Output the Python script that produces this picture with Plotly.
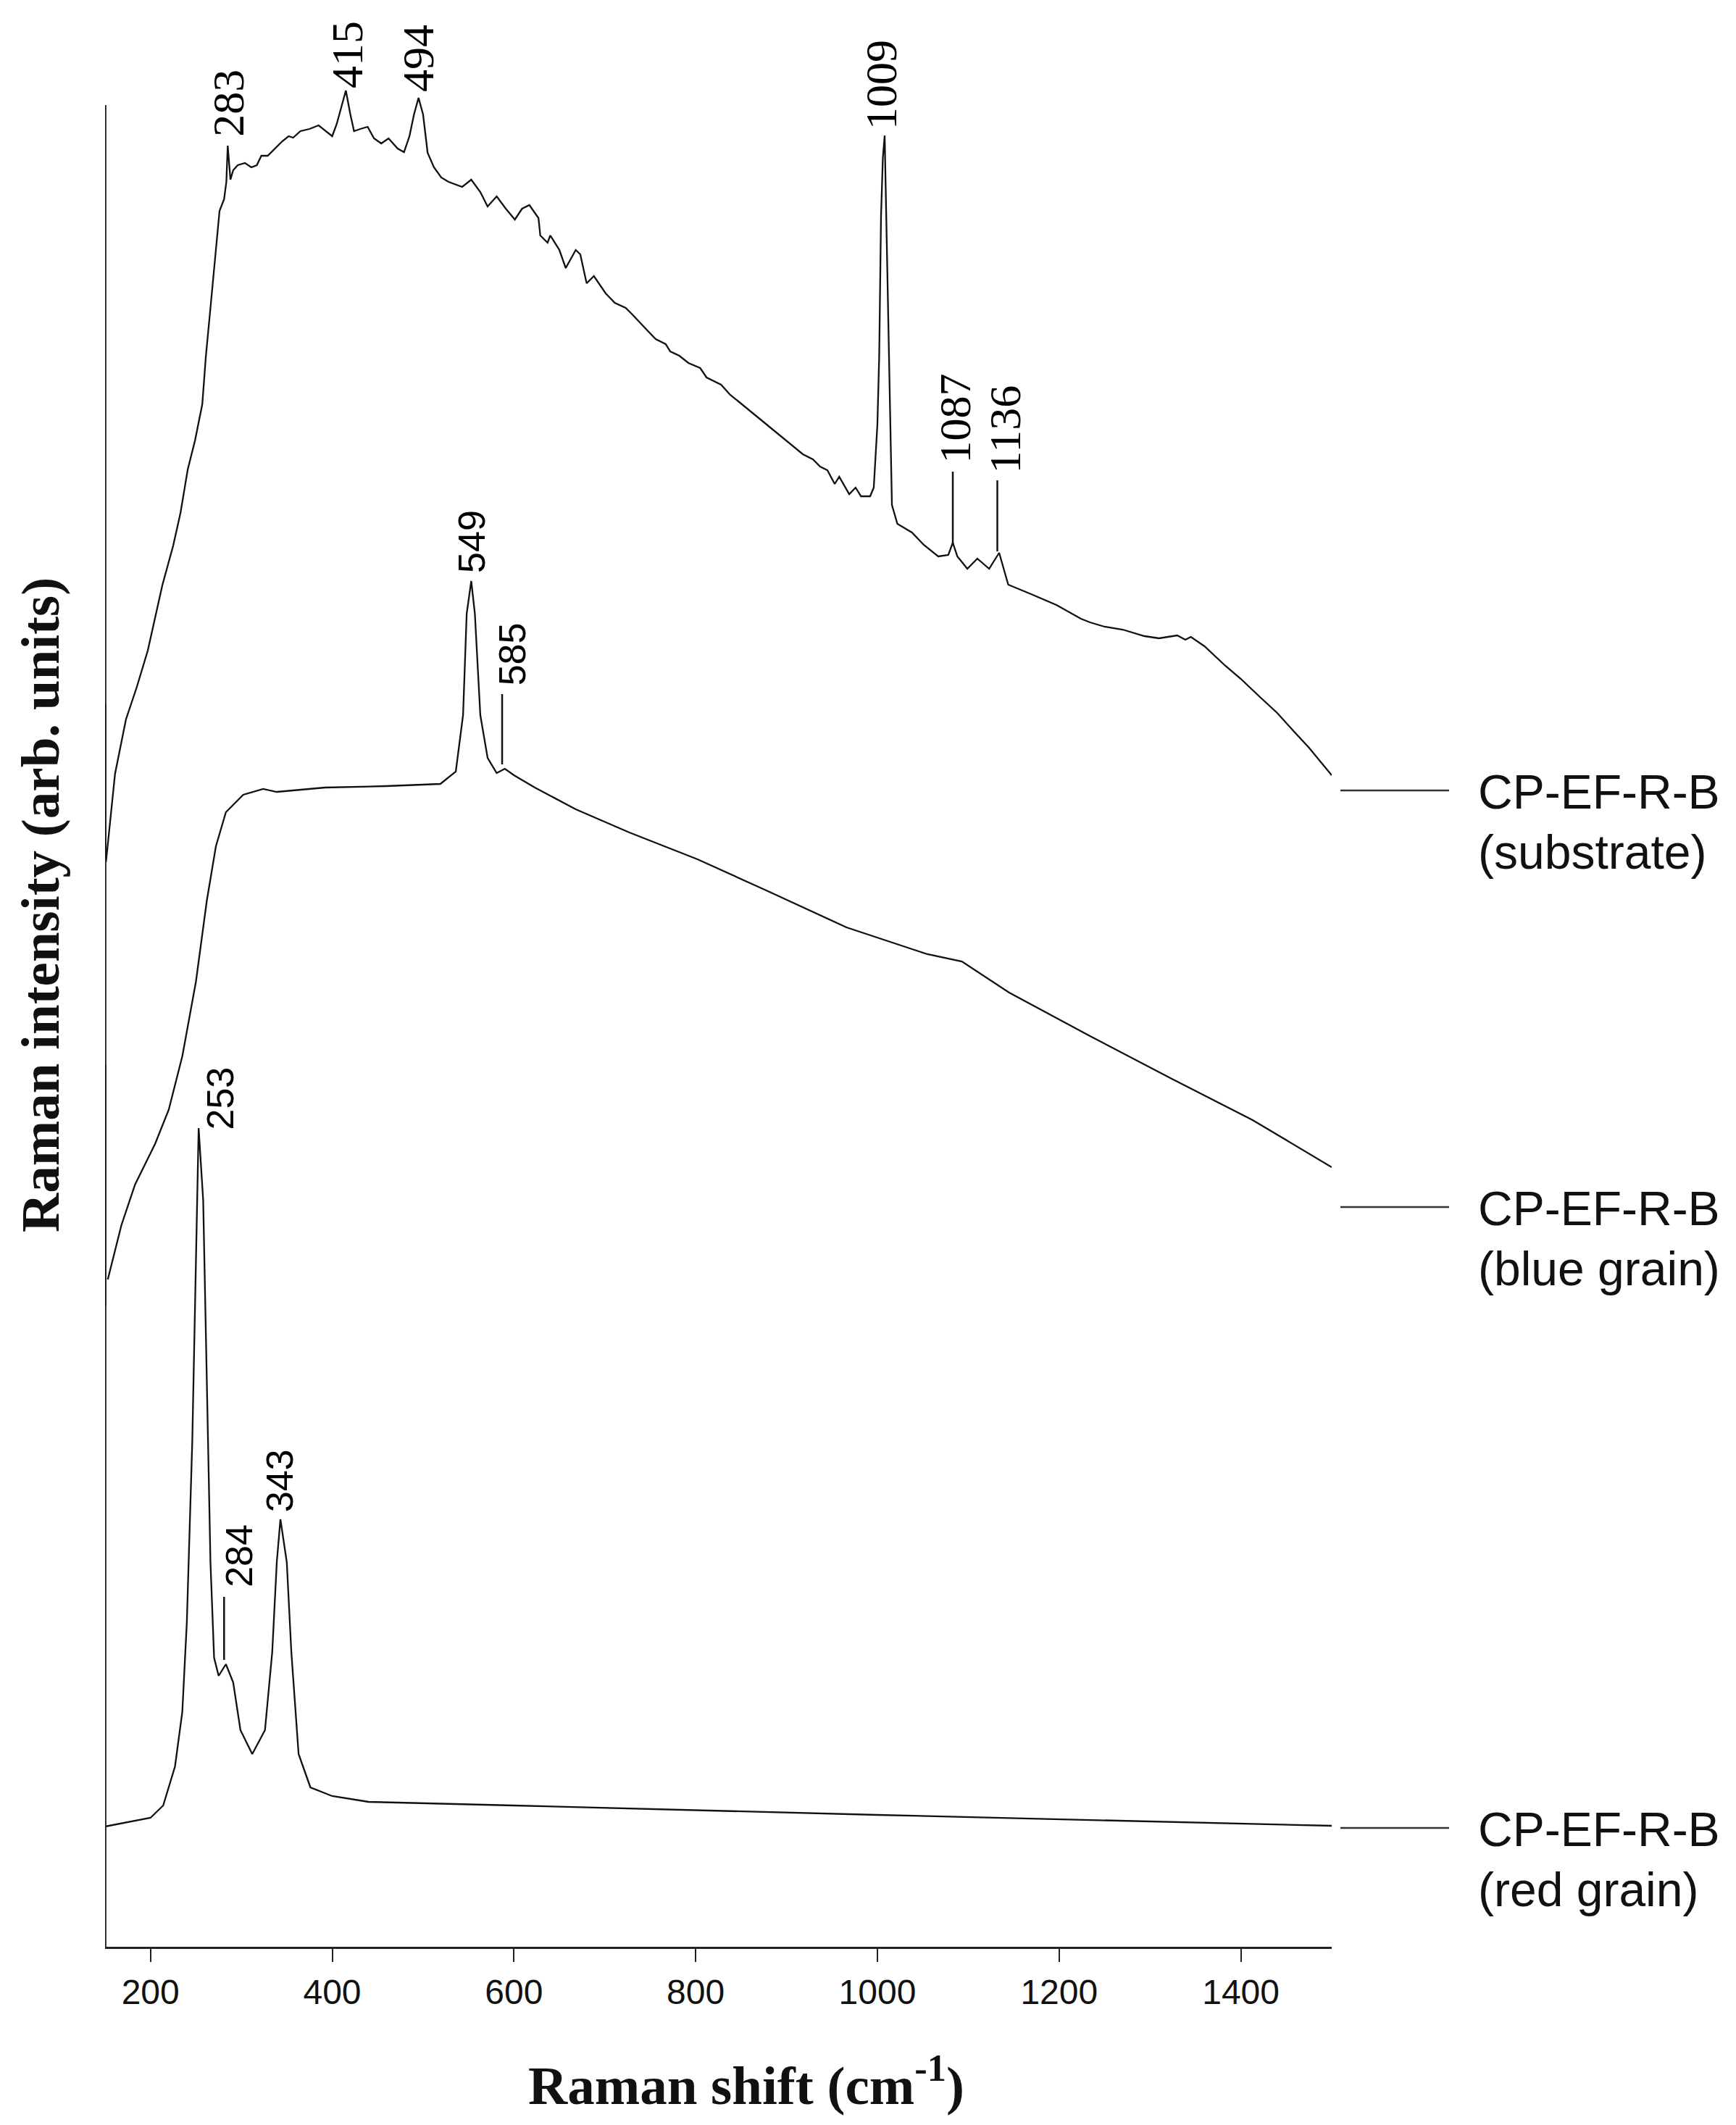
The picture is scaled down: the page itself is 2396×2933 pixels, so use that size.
import plotly.graph_objects as go

# ---------------- data (Raman shift in cm-1, intensity in arb. units incl. stacking offset) -------------
sub_wn = [151, 161, 173, 185, 197, 213, 225, 233, 241, 249, 257, 261, 266, 271, 273, 276, 281, 283.5, 285,
          288, 291, 296, 304, 311, 317, 322, 329, 337, 345, 352, 357, 365, 375, 385, 393, 400, 405, 410,
          415, 420, 424, 431, 439, 446, 454, 462, 472, 479, 485, 490, 495, 500, 505, 512, 520, 528, 543,
          553, 563, 571, 581, 591, 601, 609, 617, 627, 629, 637, 640, 650, 657, 668, 673, 680, 688, 701,
          711, 723, 731, 746, 756, 767, 772, 782, 792, 805, 812, 828, 838, 848, 918, 929, 937, 945, 953,
          958, 969, 976, 982, 992, 996, 1000, 1002, 1004, 1006, 1008, 1010, 1012, 1014, 1016, 1022, 1038,
          1051, 1067, 1078, 1083, 1088, 1099, 1110, 1123, 1134, 1144, 1171, 1197, 1224, 1234, 1250, 1270,
          1294, 1310, 1330, 1339, 1345, 1354, 1360, 1383, 1400, 1421, 1440, 1458, 1475, 1500]
sub_int = [1497, 1619, 1694, 1739, 1789, 1879, 1934, 1979, 2039, 2079, 2129, 2196, 2262, 2329, 2362, 2396,
           2412, 2436, 2486, 2439, 2452, 2459, 2462, 2456, 2459, 2472, 2472, 2482, 2492, 2499, 2497, 2506,
           2509, 2514, 2506, 2499, 2516, 2539, 2562, 2529, 2506, 2509, 2512, 2496, 2489, 2496, 2482, 2477,
           2499, 2529, 2552, 2529, 2476, 2456, 2442, 2436, 2429, 2439, 2422, 2402, 2416, 2399, 2384, 2399,
           2404, 2386, 2362, 2352, 2362, 2342, 2317, 2342, 2336, 2296, 2306, 2282, 2269, 2262, 2252, 2232,
           2219, 2212, 2202, 2196, 2186, 2179, 2166, 2156, 2142, 2132, 2060, 2053, 2043, 2038, 2019, 2029,
           2005, 2014, 2002, 2002, 2014, 2101, 2196, 2388, 2469, 2500, 2364, 2244, 2101, 1990, 1964, 1952,
           1935, 1919, 1921, 1938, 1919, 1902, 1916, 1902, 1924, 1880, 1866, 1852, 1833, 1828, 1822, 1818,
           1809, 1806, 1810, 1804, 1808, 1800, 1795, 1768, 1750, 1725, 1703, 1678, 1655, 1617]

blue_wn = [153, 168, 183, 205, 220, 235, 250, 262, 272, 283, 302, 324, 339, 392, 459, 519, 536, 544, 548,
           553, 557, 563, 571, 581, 590, 600, 623, 668, 727, 802, 876, 966, 1055, 1093, 1145, 1234, 1324,
           1413, 1500]
blue_int = [921, 996, 1052, 1108, 1155, 1229, 1332, 1444, 1519, 1566, 1590, 1598, 1594, 1600, 1602, 1605,
            1622, 1700, 1840, 1885, 1840, 1700, 1641, 1620, 1626, 1617, 1600, 1570, 1538, 1501, 1459, 1407,
            1370, 1360, 1317, 1257, 1198, 1141, 1076]

red_wn = [150, 200, 214, 227, 235, 240, 246, 251, 253, 258, 262, 266, 270, 275, 283, 291, 299, 312, 326,
          334, 339, 343, 350, 355, 363, 376, 400, 440, 600, 1000, 1500]
red_int = [166, 178, 195, 249, 324, 448, 698, 1030, 1130, 1030, 781, 531, 399, 374, 390, 365, 299, 266, 299,
           407, 531, 590, 531, 407, 266, 220, 208, 200, 195, 182, 167]

# peak labels
peak_text = ["283", "415", "494", "1009", "1087", "1136", "549", "585", "253", "284", "343"]
peak_x = [285, 416, 494, 1004, 1085, 1140, 553, 598, 276, 297, 342]
peak_y = [2497, 2564, 2559, 2507, 2046, 2032, 1895, 1740, 1126, 495, 599]
peak_serif = [True, True, True, True, True, True, False, False, False, False, False]

# leader lines under some labels
lead_x = [1083, 1132, 587, 281]
lead_y0 = [1935, 1926, 1632, 396]
lead_y1 = [2036, 2024, 1729, 483]

# sample names at the right
sample_line1 = ["CP-EF-R-B", "CP-EF-R-B", "CP-EF-R-B"]
sample_line2 = ["(substrate)", "(blue grain)", "(red grain)"]
sample_y = [1596, 1021, 164]

# darker stretches of the stacked y axes (intensity ranges)
axis_seg_y0 = [1501, 885]
axis_seg_y1 = [1715, 1217]

x_ticks = [200, 400, 600, 800, 1000, 1200, 1400]

# ---------------- figure -------------
W, H = 2396, 2933
ML, MR, MT, MB = 137, 566, 20, 254
fig = go.Figure()
for wn, it in [(sub_wn, sub_int), (blue_wn, blue_int), (red_wn, red_int)]:
    fig.add_trace(go.Scatter(x=wn, y=it, mode="lines", line=dict(color="#111111", width=2.3),
                             showlegend=False, hoverinfo="skip"))

SERIF = "Liberation Serif"
SANS = "Liberation Sans"

for t, x, y, s in zip(peak_text, peak_x, peak_y, peak_serif):
    fig.add_annotation(x=x, y=y, text=t, textangle=-90, showarrow=False, xanchor="center", yanchor="bottom",
                       borderpad=0, font=dict(family=SERIF if s else SANS, size=62 if s else 52, color="#000"))

for x, y0, y1 in zip(lead_x, lead_y0, lead_y1):
    fig.add_shape(type="line", xref="x", yref="y", x0=x, x1=x, y0=y0, y1=y1,
                  line=dict(color="#111", width=2.5))

pw = W - ML - MR
def px2paper(px):
    return (px - ML) / pw

for l1, l2, y in zip(sample_line1, sample_line2, sample_y):
    fig.add_shape(type="line", xref="paper", yref="y", x0=px2paper(1842), x1=px2paper(1992), y0=y, y1=y,
                  line=dict(color="#333", width=2.5))
    fig.add_annotation(xref="paper", yref="y", x=px2paper(2030), y=y - 2, text=l1, showarrow=False,
                       xanchor="left", yanchor="middle", font=dict(family=SANS, size=66, color="#111"))
    fig.add_annotation(xref="paper", yref="y", x=px2paper(2030), y=y - 85, text=l2, showarrow=False,
                       xanchor="left", yanchor="middle", font=dict(family=SANS, size=66, color="#111"))

# y axis line (drawn as shape; the chart has no y ticks)
fig.add_shape(type="line", xref="x", yref="y", x0=150.5, x1=150.5, y0=0, y1=2542,
              line=dict(color="#222", width=2.5))
for y0, y1 in zip(axis_seg_y0, axis_seg_y1):
    fig.add_shape(type="line", xref="x", yref="y", x0=149.6, x1=149.6, y0=y0, y1=y1,
                  line=dict(color="#111", width=4))

ph = H - MT - MB
fig.add_annotation(xref="paper", yref="paper", x=px2paper(1022), y=(H - MB - 2864) / ph,
                   text="<b>Raman shift (cm<sup>-1</sup>)</b>", showarrow=False, xanchor="center",
                   yanchor="middle", font=dict(family=SERIF, size=75, color="#111"))
fig.add_annotation(xref="paper", yref="paper", x=px2paper(47), y=(H - MB - 1241) / ph,
                   text="<b>Raman intensity (arb. units)</b>", textangle=-90, showarrow=False,
                   xanchor="center", yanchor="middle",
                   font=dict(family=SERIF, size=75, color="#111"))

fig.update_layout(width=W, height=H, margin=dict(l=ML, r=MR, t=MT, b=MB), paper_bgcolor="white",
                  plot_bgcolor="white")
fig.update_xaxes(range=[150, 1500], tickvals=x_ticks, ticks="outside", ticklen=18, tickwidth=2,
                 tickcolor="#222", showline=True, linewidth=3, linecolor="#222", showgrid=False,
                 zeroline=False, tickfont=dict(family=SANS, size=48, color="#111"))
fig.update_yaxes(range=[0, ph], visible=False, showgrid=False, zeroline=False)

fig.write_html("out.html")
